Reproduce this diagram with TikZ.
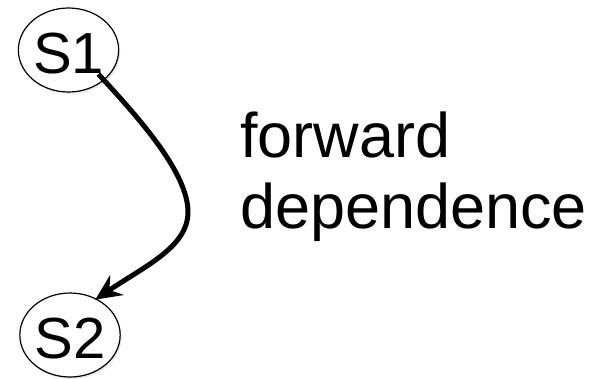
\documentclass[tikz,border=0pt]{standalone}
\usepackage{fontspec}
\setmainfont{Liberation Sans}
\usetikzlibrary{arrows.meta,shadows,shapes.geometric}
\definecolor{ink}{HTML}{000000}
\tikzset{
  stmt/.style={ellipse,draw=ink,line width=1.2pt,fill=white,inner sep=0pt,
    minimum width=97pt,minimum height=84pt,text height=48pt,
    font=\fontsize{58}{58}\selectfont,text=ink,
    drop shadow={opacity=0.18,shadow xshift=1.5pt,shadow yshift=-2pt}},
  deparrow/.style={draw=ink,line width=5pt,-{Stealth[length=26pt,width=24pt,inset=9pt]}},
  deplab/.style={font=\fontsize{63}{71}\selectfont,text=ink,align=left,inner sep=0pt},
}
\begin{document}
\begin{tikzpicture}[x=1pt,y=-1pt]
\useasboundingbox (0,0) rectangle (597,378);

\node[stmt] (S1) at (68.5,50) {S1};
\node[stmt] (S2) at (70,335) {S2};

% the dependence edge
\coordinate (bend) at (188,212);
\path[deparrow] ([xshift=-6pt,yshift=6pt]S1.south east)
  .. controls (137,116) and (188,172) .. (bend)
  .. controls (188,247) and (145,266) .. ([xshift=1pt,yshift=-2pt]S2.57);

\node[deplab,anchor=base west] (lab) at (240,228) {forward\\dependence};

\end{tikzpicture}
\end{document}
